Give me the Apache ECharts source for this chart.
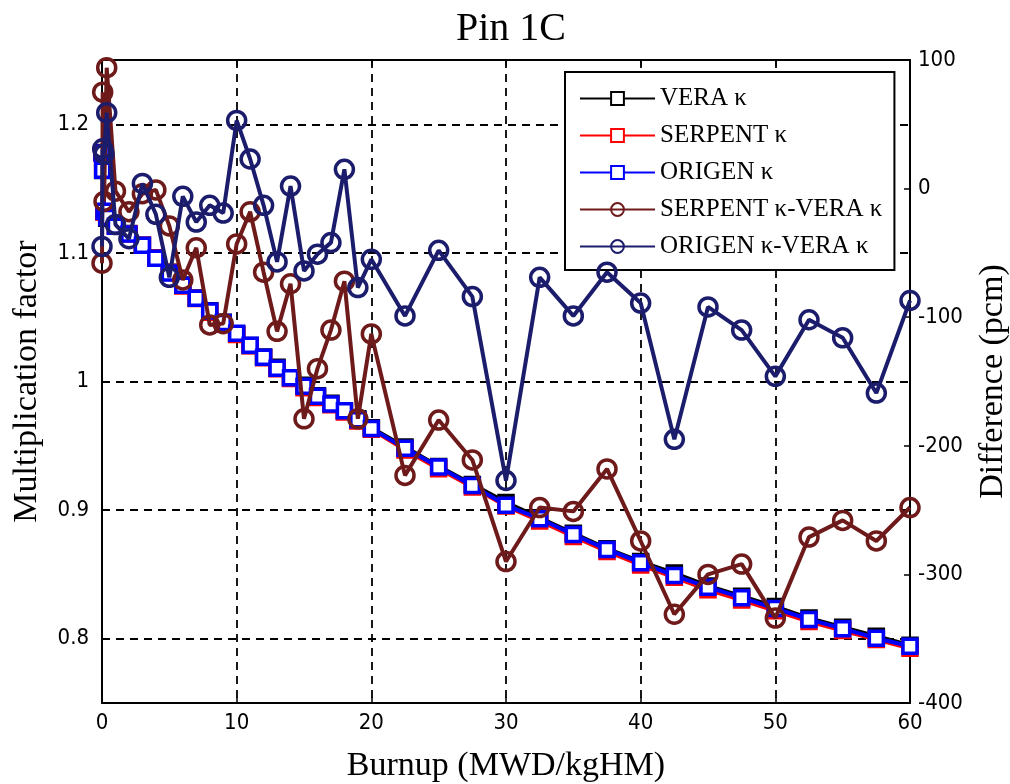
<!DOCTYPE html>
<html><head><meta charset="utf-8">
<script src="https://cdn.jsdelivr.net/npm/echarts@6/dist/echarts.min.js"></script>
<style>html,body{margin:0;padding:0;background:#fff}#c{width:1010px;height:784px}</style>
</head><body><div id="c"></div>
<script>
const burnup = [0, 0.05, 0.15, 0.35, 1, 2, 3, 4, 5, 6, 7, 8, 9, 10, 11, 12, 13, 14, 15, 16, 17, 18, 19, 20, 22.5, 25, 27.5, 30, 32.5, 35, 37.5, 40, 42.5, 45, 47.5, 50, 52.5, 55, 57.5, 60];
const veraK = [1.178, 1.164, 1.132, 1.127, 1.121, 1.115, 1.106, 1.096, 1.085, 1.075, 1.065, 1.055, 1.046, 1.037, 1.028, 1.019, 1.011, 1.003, 0.997, 0.989, 0.983, 0.977, 0.971, 0.964, 0.949, 0.934, 0.920, 0.906, 0.894, 0.882, 0.870, 0.860, 0.851, 0.841, 0.833, 0.825, 0.816, 0.809, 0.802, 0.795];
const serpentK = [1.1774, 1.1648, 1.1319, 1.1279, 1.1210, 1.1148, 1.1060, 1.0960, 1.0847, 1.0743, 1.0645, 1.0539, 1.0450, 1.0366, 1.0278, 1.0184, 1.0099, 1.0023, 0.9952, 0.9876, 0.9819, 0.9763, 0.9692, 0.9629, 0.9468, 0.9322, 0.9179, 0.9031, 0.8915, 0.8795, 0.8678, 0.8573, 0.8477, 0.8380, 0.8301, 0.8217, 0.8133, 0.8064, 0.7993, 0.7925];
const origenK = [1.1776, 1.1643, 1.1323, 1.1276, 1.1207, 1.1146, 1.1060, 1.0958, 1.0843, 1.0749, 1.0647, 1.0549, 1.0458, 1.0375, 1.0282, 1.0189, 1.0104, 1.0030, 0.9964, 0.9885, 0.9826, 0.9772, 0.9702, 0.9635, 0.9480, 0.9335, 0.9192, 0.9037, 0.8933, 0.8810, 0.8694, 0.8591, 0.8491, 0.8401, 0.8319, 0.8235, 0.8150, 0.8078, 0.8004, 0.7941];
const serpentDiff = [-58, 75, -10, 94, -2, -18, -4, -1, -29, -71, -46, -106, -105, -43, -18, -65, -111, -74, -179, -140, -110, -72, -179, -113, -223, -180, -211, -290, -248, -251, -218, -274, -331, -300, -292, -334, -271, -258, -274, -248];
const origenDiff = [-45, 31, 27, 59, -28, -39, 4, -20, -69, -6, -26, -13, -19, 53, 23, -13, -57, 2, -64, -51, -42, 15, -77, -55, -99, -48, -84, -227, -69, -99, -65, -89, -195, -92, -110, -146, -102, -116, -159, -87];
const kTicks = [0.8, 0.9, 1.0, 1.1, 1.2];
const seriesNames = ['VERA κ', 'SERPENT κ', 'ORIGEN κ', 'SERPENT κ-VERA κ', 'ORIGEN κ-VERA κ'];

const pairs = ys => burnup.map((x, i) => [x, ys[i]]);
const serif = 'Liberation Serif';
const sans = 'Liberation Sans Narrow, DejaVu Sans Condensed, Liberation Sans';

function sq(name, data, color, z) {
  return {
    name, type: 'line', yAxisIndex: 0, data: pairs(data), z,
    symbol: 'rect', symbolSize: 14, showSymbol: true,
    lineStyle: { color, width: 4 },
    itemStyle: { color: '#fff', borderColor: color, borderWidth: 3.5 }
  };
}
function ci(name, data, color, z) {
  return {
    name, type: 'line', yAxisIndex: 1, data: pairs(data), z,
    symbol: 'circle', symbolSize: 18, showSymbol: true,
    lineStyle: { color, width: 4 },
    itemStyle: { color: 'rgba(255,255,255,0)', borderColor: color, borderWidth: 3.5 }
  };
}

const chart = echarts.init(document.getElementById('c'));
chart.setOption({
  animation: false,
  backgroundColor: '#fff',
  title: {
    text: 'Pin 1C', left: 506, textAlign: 'center', top: 4,
    textStyle: { fontFamily: serif, fontSize: 40, fontWeight: 'normal', color: '#000' }
  },
  grid: { left: 102, right: 100, top: 60, bottom: 81, show: false, containLabel: false, outerBoundsMode: 'none' },
  legend: {
    orient: 'vertical', left: 565, top: 72,
    data: seriesNames,
    itemWidth: 75, itemHeight: 16, itemGap: 12,
    padding: [14, 12, 11, 14],
    backgroundColor: '#fff', borderColor: '#000', borderWidth: 2,
    textStyle: { fontFamily: serif, fontSize: 25, color: '#000' }
  },
  xAxis: [{
    type: 'value', min: 0, max: 60, interval: 10, position: 'bottom',
    name: 'Burnup (MWD/kgHM)', nameLocation: 'middle', nameGap: 46,
    nameTextStyle: { fontFamily: serif, fontSize: 34, color: '#000' },
    axisLine: { show: true, onZero: false, lineStyle: { color: '#000', width: 2 } },
    axisTick: { show: true, inside: true, length: 6, lineStyle: { color: '#000', width: 1.5 } },
    axisLabel: { show: true, margin: 9, fontFamily: sans, fontSize: 22, color: '#000' },
    splitLine: { show: true, lineStyle: { color: '#000', width: 1.8, type: [8, 6] } }
  }, {
    type: 'value', min: 0, max: 60, interval: 10, position: 'top',
    axisLine: { show: true, onZero: false, lineStyle: { color: '#000', width: 2 } },
    axisTick: { show: true, inside: true, length: 6, lineStyle: { color: '#000', width: 1.5 } },
    axisLabel: { show: false }, splitLine: { show: false }
  }],
  yAxis: [{
    type: 'value', min: 0.75, max: 1.25, position: 'left',
    name: 'Multiplication factor', nameLocation: 'middle', nameGap: 58, nameRotate: 90,
    nameTextStyle: { fontFamily: serif, fontSize: 34, color: '#000' },
    axisLine: { show: true, onZero: false, lineStyle: { color: '#000', width: 2 } },
    axisTick: { show: true, inside: true, length: 6, customValues: kTicks, lineStyle: { color: '#000', width: 1.5 } },
    axisLabel: { show: true, margin: 13, customValues: kTicks, fontFamily: sans, fontSize: 22, color: '#000',
      formatter: v => (Math.abs(v - 1) < 1e-9 ? '1' : v.toFixed(1)) },
    splitLine: { show: true, lineStyle: { color: '#000', width: 1.8, type: [8, 6] } }
  }, {
    type: 'value', min: -400, max: 100, interval: 100, position: 'right',
    name: 'Difference (pcm)', nameLocation: 'middle', nameGap: 66, nameRotate: 90,
    nameTextStyle: { fontFamily: serif, fontSize: 34, color: '#000' },
    axisLine: { show: true, onZero: false, lineStyle: { color: '#000', width: 2 } },
    axisTick: { show: true, inside: true, length: 6, lineStyle: { color: '#000', width: 1.5 } },
    axisLabel: { show: true, margin: 8, fontFamily: sans, fontSize: 22, color: '#000' },
    splitLine: { show: false }
  }],
  series: [
    sq(seriesNames[0], veraK, '#000000', 2),
    sq(seriesNames[1], serpentK, '#ff0000', 3),
    sq(seriesNames[2], origenK, '#0000ff', 4),
    ci(seriesNames[3], serpentDiff, '#6e1a1a', 5),
    ci(seriesNames[4], origenDiff, '#1c1c6c', 6)
  ]
});
</script>
</body></html>
